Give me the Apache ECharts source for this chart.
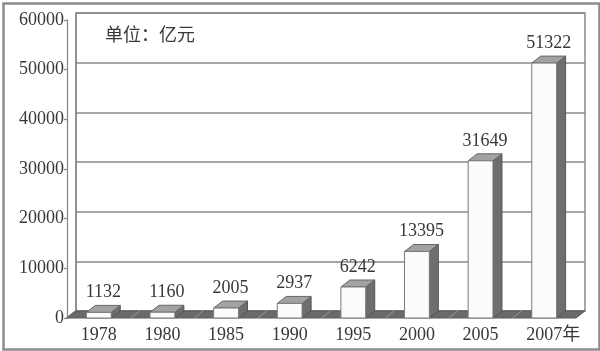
<!DOCTYPE html>
<html>
<head>
<meta charset="utf-8">
<script src="https://cdn.jsdelivr.net/npm/echarts@6/dist/echarts.min.js"></script>
<style>html,body{margin:0;padding:0;background:#fff}#c{width:600px;height:351px}</style>
</head>
<body>
<div id="c"></div>
<script>
const years = ['1978','1980','1985','1990','1995','2000','2005','2007'];
const values = [1132,1160,2005,2937,6242,13395,31649,51322];
const yTicks = [0,10000,20000,30000,40000,50000,60000];
const unitText = '单位：亿元';
const yearSuffix = '年';

const DX = 9, DY = 7;
const FONT = "'Liberation Serif','Noto Sans CJK SC',serif";
const TXT = '#383838';
const LINE = '#8a8a8a';

const chart = echarts.init(document.getElementById('c'), null, {renderer:'canvas'});

const option = {
  animation:false,
  backgroundColor:'#fff',
  grid:[
    {left:67, right:24, top:20, bottom:33},
    {left:76, right:15, top:13, bottom:40, show:true, borderColor:LINE, borderWidth:1.5, backgroundColor:'#fff', z:0}
  ],
  xAxis:[
    {gridIndex:0, type:'category', data:years, boundaryGap:true,
     axisLine:{show:false}, axisTick:{show:false},
     axisLabel:{interval:0, fontFamily:FONT, fontSize:18, color:TXT, margin:8, hideOverlap:false,
       formatter:function(v, i){ return i === years.length-1 ? '{p| }' + v + yearSuffix : v; },
       rich:{p:{width:18, fontSize:18}}}},
    {gridIndex:1, type:'category', data:years, show:false}
  ],
  yAxis:[
    {gridIndex:0, type:'value', min:0, max:60000, interval:10000,
     axisLine:{show:true, lineStyle:{color:LINE, width:1.3}},
     axisTick:{show:true, length:3, lineStyle:{color:LINE, width:1.3}},
     splitLine:{show:false},
     axisLabel:{fontFamily:FONT, fontSize:18, color:TXT, margin:3,
       formatter:function(v){ return String(v); }}},
    {gridIndex:1, type:'value', min:0, max:60000, interval:10000,
     axisLine:{show:true, lineStyle:{color:LINE, width:1.5}},
     axisTick:{show:false}, axisLabel:{show:false},
     splitLine:{show:true, lineStyle:{color:LINE, width:1.5}}}
  ],
  series:[
    {
      type:'custom', xAxisIndex:0, yAxisIndex:0, z:3,
      data:yTicks,
      renderItem:function(params, api){
        const cs = params.coordSys;
        const y = api.coord([0, api.value(0)])[1];
        return {type:'polyline', shape:{points:[[cs.x, y],[cs.x+DX, y-DY]]},
                style:{stroke:LINE, lineWidth:1.3, fill:null}};
      }
    },
    {
      type:'custom', xAxisIndex:0, yAxisIndex:0, z:4,
      data:[0],
      renderItem:function(params, api){
        const cs = params.coordSys;
        const y0 = api.coord([0, 0])[1];
        const band = api.size([1,0])[0];
        const children = [{
          type:'polygon',
          shape:{points:[[cs.x,y0],[cs.x+cs.width,y0],[cs.x+cs.width+DX,y0-DY],[cs.x+DX,y0-DY]]},
          style:{fill:'#6a6a6a', stroke:'#5a5a5a', lineWidth:1}
        }];
        for (let i=1;i<years.length;i++){
          const xb = cs.x + band*i;
          children.push({type:'line', shape:{x1:xb,y1:y0,x2:xb+DX,y2:y0-DY},
            style:{stroke:'#9a9a9a', lineWidth:1}});
        }
        return {type:'group', children:children};
      }
    },
    {
      type:'custom', xAxisIndex:0, yAxisIndex:0, z:5,
      data:values.map(function(v,i){return [i,v];}),
      renderItem:function(params, api){
        const i = api.value(0), v = api.value(1);
        const top = api.coord([i, v]);
        const y0 = api.coord([i, 0])[1];
        const bw = api.size([1,0])[0]*0.39;
        const xl = top[0]-bw/2, xr = top[0]+bw/2, yt = top[1];
        return {type:'group', children:[
          {type:'polygon', shape:{points:[[xr,yt],[xr+DX,yt-DY],[xr+DX,y0-DY],[xr,y0]]},
           style:{fill:'#6e6e6e', stroke:'#555', lineWidth:1}},
          {type:'polygon', shape:{points:[[xl,yt],[xr,yt],[xr+DX,yt-DY],[xl+DX,yt-DY]]},
           style:{fill:'#a2a2a2', stroke:'#666', lineWidth:1}},
          {type:'rect', shape:{x:xl, y:yt, width:bw, height:y0-yt},
           style:{fill:'#fbfbfb', stroke:'#7a7a7a', lineWidth:1}},
          {type:'text', x:top[0]+DX/2, y:yt-DY-4,
           style:{text:String(v), fontFamily:FONT, fontSize:18, fill:TXT,
                  align:'center', verticalAlign:'bottom'}}
        ]};
      }
    }
  ],
  graphic:[
    {type:'rect', left:1, top:1, shape:{x:1,y:1,width:596,height:346},
     style:{fill:null, stroke:'#8c8c8c', lineWidth:2.5}, z:10},
    {type:'text', left:105, top:27,
     style:{text:unitText, fontFamily:FONT, fontSize:18, fill:TXT}, z:10}
  ]
};
chart.setOption(option);
</script>
</body>
</html>
